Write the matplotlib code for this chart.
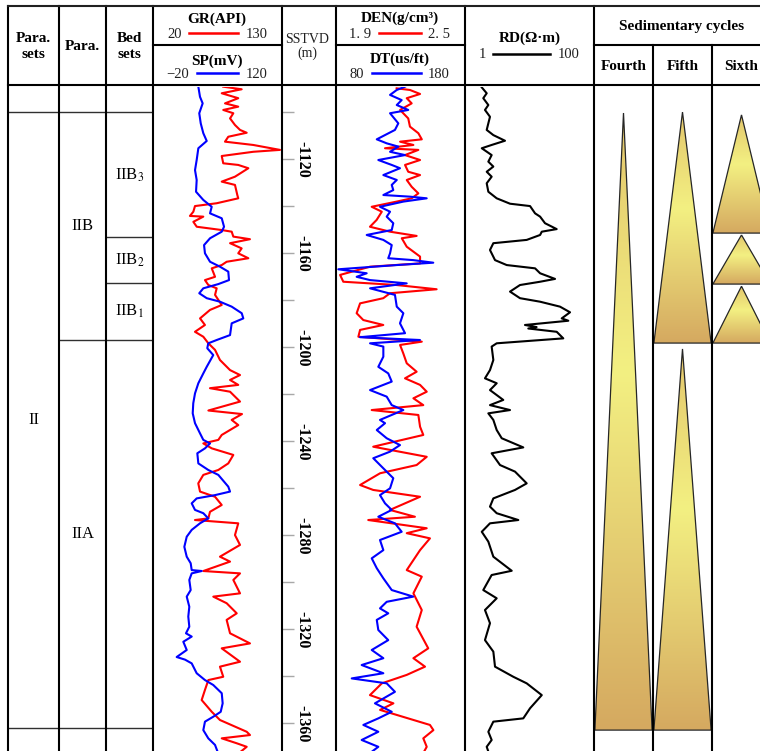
import numpy as np
import matplotlib
matplotlib.use("Agg")
import matplotlib.pyplot as plt
from matplotlib.colors import LinearSegmentedColormap
from matplotlib.patches import Polygon

plt.rcParams['font.family'] = ['Liberation Serif', 'DejaVu Serif']
plt.rcParams['axes.unicode_minus'] = False
plt.rcParams['mathtext.fontset'] = 'stix'

# ---- log data (depth in m below datum, SSTVD = -depth) ----
gr_depth = [1089.1, 1090.2, 1091.9, 1094.0, 1096.2, 1097.6, 1099.0, 1100.4, 1102.6, 1105.4,
            1107.5, 1108.7, 1110.4, 1112.5, 1113.9, 1116.0, 1116.8, 1118.6, 1121.7, 1122.4,
            1123.8, 1127.4, 1129.5, 1130.9, 1135.2, 1136.6, 1138.7, 1139.9, 1142.3, 1144.1,
            1144.4, 1146.6, 1148.7, 1150.1, 1150.8, 1152.9, 1154.0, 1155.7, 1157.9, 1160.0,
            1162.1, 1163.6, 1165.0, 1166.4, 1170.0, 1171.4, 1173.5, 1174.9, 1177.7, 1182.0,
            1184.1, 1187.7, 1190.5, 1193.4, 1195.5, 1198.3, 1201.1, 1205.4, 1209.7, 1211.8,
            1213.9, 1216.0, 1217.4, 1218.9, 1223.1, 1226.9, 1228.4, 1230.9, 1233.1, 1237.3,
            1239.4, 1240.9, 1243.0, 1245.8, 1249.4, 1252.2, 1254.3, 1257.9, 1261.4, 1263.6,
            1267.1, 1270.0, 1272.8, 1273.5, 1274.9, 1279.9, 1284.1, 1289.1, 1291.2, 1295.2,
            1296.2, 1299.0, 1304.7, 1306.1, 1308.9, 1313.2, 1316.0, 1321.7, 1326.0, 1328.1,
            1333.8, 1335.9, 1340.2, 1341.6, 1345.8, 1350.1, 1355.1, 1358.6, 1363.6, 1365.0,
            1366.4, 1368.5, 1370.0, 1372.0]
gr = [79.9, 95.6, 78.6, 92.7, 81.4, 92.7, 79.9, 88.5, 85.7, 89.9,
      94.2, 99.9, 84.2, 81.4, 105.5, 128.3, 105.5, 78.6, 79.9, 92.7,
      101.3, 89.9, 78.6, 89.9, 91.9, 92.7, 74.3, 55.8, 54.4, 51.5,
      62.9, 54.4, 57.3, 78.6, 87.1, 88.5, 102.7, 85.7, 95.6, 92.7,
      101.3, 82.8, 78.6, 70.1, 72.9, 64.3, 67.2, 74.3, 72.9, 78.6,
      68.6, 60.1, 64.3, 55.8, 62.9, 67.2, 72.9, 77.1, 85.7, 94.2,
      85.7, 92.7, 68.6, 85.7, 94.2, 67.2, 95.9, 87.1, 92.7, 78.6,
      75.7, 62.9, 70.1, 88.5, 84.2, 75.7, 62.9, 58.6, 60.1, 72.9,
      78.6, 68.6, 67.2, 55.8, 92.7, 89.9, 94.2, 77.1, 85.7, 62.9,
      94.2, 88.5, 94.2, 71.4, 82.8, 91.4, 82.8, 85.7, 102.7, 78.6,
      94.2, 77.1, 79.9, 67.2, 64.3, 61.5, 70.1, 77.1, 99.9, 102.7,
      78.6, 91.4, 99.9, 95.0]

sp_depth = [1089.1, 1093.4, 1096.2, 1100.4, 1104.7, 1108.9, 1112.2, 1115.3, 1120.3, 1124.6,
            1128.8, 1133.8, 1137.3, 1140.2, 1143.0, 1145.1, 1148.7, 1150.8, 1153.6, 1156.5,
            1160.0, 1163.6, 1165.7, 1167.8, 1171.4, 1173.1, 1174.9, 1177.0, 1179.1, 1180.6,
            1182.7, 1185.5, 1187.7, 1189.8, 1194.8, 1196.9, 1198.3, 1200.4, 1203.3, 1208.3,
            1211.1, 1215.3, 1219.6, 1223.8, 1228.1, 1232.3, 1236.6, 1239.4, 1240.9, 1243.0,
            1245.1, 1249.4, 1252.2, 1254.3, 1259.3, 1261.4, 1262.9, 1264.3, 1266.4, 1269.2,
            1270.6, 1272.8, 1274.9, 1277.7, 1280.6, 1284.9, 1289.1, 1291.9, 1294.8, 1295.2,
            1296.2, 1299.0, 1303.3, 1306.1, 1310.4, 1314.6, 1318.9, 1321.7, 1323.1, 1325.3,
            1328.8, 1331.8, 1332.9, 1334.5, 1338.7, 1341.6, 1343.7, 1347.2, 1351.5, 1355.1,
            1357.2, 1359.3, 1362.9, 1366.4, 1369.2, 1372.0]
sp = [29.2, 31.0, 33.9, 30.2, 31.8, 34.6, 38.3, 29.2, 27.4, 25.6,
      27.4, 26.7, 34.6, 43.7, 41.9, 54.6, 57.1, 54.6, 41.9, 35.4,
      36.4, 41.9, 52.7, 61.7, 62.5, 50.9, 34.6, 30.2, 38.3, 52.7,
      65.4, 76.3, 78.0, 65.4, 63.6, 49.1, 40.0, 38.9, 45.4, 38.3,
      34.6, 29.2, 25.6, 23.7, 23.1, 25.6, 31.0, 34.6, 41.9, 36.4,
      28.1, 29.2, 40.0, 50.9, 61.7, 63.6, 47.3, 27.4, 22.0, 25.6,
      34.6, 40.0, 31.0, 22.0, 16.6, 14.0, 16.6, 20.9, 22.0, 32.9,
      22.0, 19.4, 20.9, 16.6, 19.4, 18.3, 19.4, 15.8, 22.0, 12.9,
      16.6, 5.7, 14.7, 22.0, 27.4, 36.4, 45.4, 54.6, 55.6, 53.5,
      45.4, 36.4, 34.6, 40.0, 47.3, 50.0]

den_depth = [1089.8, 1090.5, 1092.2, 1094.0, 1096.2, 1099.0, 1102.6, 1106.1, 1108.9, 1111.5,
             1112.5, 1113.9, 1115.3, 1116.0, 1118.2, 1120.3, 1122.4, 1125.3, 1126.7, 1128.8,
             1131.7, 1134.5, 1136.6, 1138.0, 1140.2, 1142.3, 1145.8, 1148.7, 1150.8, 1152.6,
             1153.6, 1157.2, 1161.4, 1164.3, 1165.7, 1169.2, 1172.1, 1173.5, 1175.3, 1177.0,
             1179.1, 1181.3, 1185.5, 1188.4, 1190.5, 1192.6, 1195.5, 1197.6, 1199.0, 1202.6,
             1206.8, 1210.4, 1213.2, 1216.0, 1218.9, 1221.7, 1224.6, 1226.7, 1228.8, 1233.8,
             1237.3, 1242.3, 1246.6, 1250.1, 1253.6, 1258.6, 1260.7, 1263.6, 1269.2, 1272.1,
             1273.5, 1277.0, 1279.1, 1281.3, 1286.3, 1294.8, 1297.6, 1304.7, 1311.8, 1318.9,
             1328.1, 1332.3, 1335.9, 1339.4, 1343.0, 1348.0, 1351.5, 1354.3, 1360.7, 1362.9,
             1366.4, 1370.0, 1372.0]
den = [2.182, 2.244, 2.291, 2.229, 2.252, 2.198, 2.236, 2.244, 2.283, 2.299,
       2.198, 2.260, 2.128, 2.283, 2.221, 2.291, 2.221, 2.236, 2.291, 2.229,
       2.252, 2.283, 2.252, 2.182, 2.066, 2.113, 2.089, 2.058, 2.151, 2.275,
       2.206, 2.229, 2.291, 2.291, 2.058, 1.919, 1.934, 2.182, 2.368, 2.151,
       2.120, 2.012, 1.996, 2.027, 2.120, 2.012, 2.004, 2.299, 2.198, 2.213,
       2.229, 2.275, 2.221, 2.291, 2.322, 2.260, 2.306, 2.066, 2.283, 2.291,
       2.306, 2.073, 2.322, 2.275, 2.105, 2.012, 2.073, 2.291, 2.151, 2.267,
       2.050, 2.322, 2.229, 2.337, 2.291, 2.229, 2.299, 2.260, 2.299, 2.275,
       2.329, 2.260, 2.314, 2.229, 2.113, 2.058, 2.167, 2.105, 2.337, 2.353,
       2.306, 2.322, 2.310]

dt_depth = [1089.1, 1090.5, 1092.6, 1094.8, 1096.9, 1099.0, 1100.4, 1104.7, 1107.5, 1111.5,
            1113.2, 1114.6, 1116.8, 1118.2, 1120.3, 1122.4, 1123.8, 1126.7, 1128.8, 1130.9,
            1133.1, 1135.2, 1135.9, 1136.6, 1138.0, 1140.2, 1142.3, 1144.4, 1147.2, 1150.1,
            1152.2, 1154.3, 1156.5, 1160.0, 1162.1, 1162.9, 1164.0, 1165.0, 1166.8, 1168.5,
            1170.0, 1171.4, 1172.8, 1174.9, 1177.7, 1182.7, 1185.5, 1189.8, 1194.0, 1195.7,
            1196.9, 1198.3, 1199.7, 1204.0, 1208.3, 1211.1, 1214.6, 1218.2, 1221.0, 1224.6,
            1226.7, 1230.9, 1232.3, 1235.2, 1238.7, 1241.6, 1244.4, 1247.2, 1251.5, 1255.7,
            1260.0, 1262.9, 1266.4, 1269.2, 1272.1, 1274.9, 1278.5, 1282.0, 1286.3, 1289.8,
            1294.0, 1298.3, 1303.3, 1306.1, 1308.3, 1311.1, 1313.2, 1316.0, 1320.3, 1324.6,
            1328.8, 1332.3, 1335.2, 1338.7, 1340.9, 1343.0, 1346.6, 1351.5, 1355.1, 1357.9,
            1360.7, 1363.6, 1367.1, 1370.0, 1372.0]
dt = [133.5, 127.1, 121.9, 130.9, 127.1, 136.0, 121.9, 128.3, 125.7, 111.6,
      119.3, 128.3, 121.9, 133.5, 112.8, 123.2, 129.6, 116.7, 127.1, 123.2,
      124.4, 116.7, 137.4, 150.3, 132.2, 114.1, 121.9, 119.3, 124.4, 123.2,
      103.8, 116.7, 123.2, 121.9, 120.5, 139.9, 155.4, 127.1, 81.8, 103.8,
      96.0, 106.4, 134.8, 106.4, 125.7, 127.1, 132.2, 129.6, 133.5, 98.6,
      145.1, 106.4, 116.7, 116.7, 112.8, 120.5, 123.2, 106.4, 119.3, 123.2,
      132.2, 114.1, 118.0, 111.6, 119.3, 129.6, 121.9, 108.9, 116.7, 124.4,
      121.9, 114.1, 118.0, 123.2, 112.8, 125.7, 130.9, 114.1, 116.7, 107.7,
      111.6, 116.7, 123.2, 139.9, 119.3, 114.1, 120.5, 111.6, 112.8, 120.5,
      107.7, 116.7, 99.9, 116.7, 92.2, 119.3, 125.7, 110.2, 123.2, 112.8,
      101.2, 112.8, 99.9, 112.8, 108.0]

rd_depth = [1089.4, 1091.9, 1094.0, 1096.9, 1099.0, 1101.9, 1104.7, 1107.5, 1109.7, 1112.1,
            1113.9, 1115.3, 1118.2, 1121.0, 1123.1, 1125.3, 1127.4, 1130.2, 1133.8, 1136.6,
            1138.9, 1139.9, 1143.0, 1144.4, 1147.2, 1149.7, 1150.8, 1152.2, 1154.3, 1155.7,
            1158.6, 1162.9, 1165.0, 1166.4, 1168.5, 1170.9, 1172.1, 1173.5, 1176.3, 1179.1,
            1180.6, 1182.7, 1185.1, 1187.7, 1188.7, 1190.5, 1191.4, 1192.0, 1193.4, 1196.2,
            1198.3, 1199.7, 1205.4, 1209.7, 1213.2, 1215.3, 1218.2, 1222.4, 1224.6, 1226.7,
            1228.1, 1230.9, 1235.2, 1238.7, 1242.6, 1245.1, 1250.1, 1252.9, 1257.9, 1260.7,
            1264.3, 1267.8, 1270.6, 1273.5, 1274.9, 1278.5, 1282.7, 1289.1, 1295.1, 1296.9,
            1303.3, 1306.8, 1311.8, 1317.4, 1324.6, 1329.5, 1335.9, 1340.2, 1343.0, 1348.0,
            1353.6, 1357.9, 1359.3, 1363.6, 1367.1, 1370.0, 1372.0]
rd = [1.82, 2.17, 1.92, 2.30, 2.04, 2.44, 2.30, 2.17, 2.75, 4.17,
      2.59, 1.82, 2.59, 2.30, 2.75, 2.17, 2.59, 2.17, 2.30, 3.10,
      4.99, 10.2, 12.2, 14.6, 17.4, 26.4, 15.5, 14.6, 9.05, 2.75,
      2.44, 2.92, 4.43, 12.2, 14.6, 24.9, 14.6, 7.12, 4.99, 7.12,
      14.6, 29.7, 42.5, 31.6, 40.0, 8.51, 12.9, 9.58, 26.4, 33.4,
      3.10, 2.59, 2.75, 2.44, 2.04, 3.10, 2.44, 3.92, 2.44, 4.99,
      2.30, 2.75, 3.10, 3.71, 8.01, 2.59, 3.49, 5.96, 9.05, 5.96,
      2.75, 2.44, 3.10, 6.71, 2.44, 1.82, 2.30, 2.75, 5.30, 2.59,
      1.92, 3.10, 2.04, 2.44, 2.04, 2.75, 2.92, 5.61, 9.05, 15.5,
      10.2, 8.01, 2.75, 2.30, 2.59, 2.17, 2.30]

# ---- stratigraphic units ----
para_set_names = ['II']
para_set_bounds = [1100.0, 1362.0]
para_names = ['IIB', 'IIA']
para_bounds = [1100.0, 1196.8, 1362.0]
bed_names = ['IIB$_3$', 'IIB$_2$', 'IIB$_1$']
bed_bounds = [1100.0, 1153.2, 1172.8, 1196.8, 1362.0]

fourth_tops = [1100.3]
fourth_bases = [1362.9]
fifth_tops = [1099.9, 1200.7]
fifth_bases = [1198.2, 1362.9]
sixth_tops = [1101.1, 1152.2, 1174.0]
sixth_bases = [1151.4, 1173.1, 1198.2]

depth_ticks = list(range(1100, 1361, 20))
depth_labels = list(range(1120, 1361, 40))

# ---- layout (pixels) ----
W, H = 760, 751
HDR_TOP, HDR_MID, HDR_BOT = 6, 45, 85
TRK_TOP, TRK_BOT = 87, 751
COLS = [8, 59, 106, 153, 282, 336, 465, 594, 653, 712, 771]
D_TOP = 1100 + (TRK_TOP - 112.3) / 2.35
D_BOT = 1100 + (TRK_BOT - 112.3) / 2.35

fig = plt.figure(figsize=(W / 100, H / 100), dpi=100)
fig.patch.set_facecolor('white')


def track(x0, x1):
    ax = fig.add_axes([x0 / W, 1 - TRK_BOT / H, (x1 - x0) / W, (TRK_BOT - TRK_TOP) / H])
    ax.set_ylim(-D_BOT, -D_TOP)
    ax.axis('off')
    return ax


def zone_column(x0, x1, bounds, names):
    ax = track(x0, x1)
    ax.set_xlim(0, 1)
    ax.hlines([-b for b in bounds], 0, 1, color='#303030', lw=1.0)
    for i, name in enumerate(names):
        mid = (bounds[i] + bounds[i + 1]) / 2
        ax.text(0.5, -mid, name, ha='center', va='center', fontsize=12)
    return ax


zone_column(COLS[0], COLS[1], para_set_bounds, para_set_names)
zone_column(COLS[1], COLS[2], para_bounds, para_names)
zone_column(COLS[2], COLS[3], bed_bounds, bed_names)

# GR / SP
ax = track(COLS[3], COLS[4])
ax.set_xlim(20, 130)
ax.plot(gr, -np.array(gr_depth), color='#ff0000', lw=1.5)
ax = track(COLS[3], COLS[4])
ax.set_xlim(-20, 120)
ax.plot(sp, -np.array(sp_depth), color='#0000ff', lw=1.5)

# depth column
ax = fig.add_axes([COLS[4] / W, 1 - TRK_BOT / H, (COLS[5] - COLS[4]) / W, (TRK_BOT - TRK_TOP) / H])
ax.set_xlim(0, 1)
ax.set_ylim(-D_BOT, -D_TOP)
for s in ax.spines.values():
    s.set_visible(False)
ax.set_xticks([])
ax.set_yticks([-d for d in depth_ticks])
ax.tick_params(axis='y', direction='in', length=8.6, width=1, color='#a8a8a8', labelleft=False)
for d in depth_labels:
    ax.text(0.37, -d, f'-{d}', rotation=-90, ha='center', va='center',
            fontsize=11.5, fontweight='bold')

# DEN / DT
ax = track(COLS[5], COLS[6])
ax.set_xlim(1.9, 2.5)
ax.plot(den, -np.array(den_depth), color='#ff0000', lw=1.5)
ax = track(COLS[5], COLS[6])
ax.set_xlim(80, 180)
ax.plot(dt, -np.array(dt_depth), color='#0000ff', lw=1.5)

# RD
ax = track(COLS[6], COLS[7])
ax.set_xscale('log')
ax.set_xlim(1, 100)
ax.plot(rd, -np.array(rd_depth), color='black', lw=1.5)

# sedimentary cycles
cyc_cmap = LinearSegmentedColormap.from_list(
    'cyc', [(0.0, '#e3c66c'), (0.42, '#f3f082'), (1.0, '#d5a960')])
grad = np.linspace(0, 1, 256).reshape(-1, 1)


def cycles(x0, x1, tops, bases):
    ax = track(x0, x1)
    for t, b in zip(tops, bases):
        tri = Polygon([(0.5, -t), (0.015, -b), (0.985, -b)], closed=True,
                      fc='none', ec='#262626', lw=0.9, zorder=3)
        ax.add_patch(tri)
        im = ax.imshow(grad, cmap=cyc_cmap, aspect='auto', origin='upper',
                       extent=(0, 1, -b, -t), zorder=2, interpolation='bilinear')
        im.set_clip_path(tri)
    ax.set_xlim(0, 1)
    ax.set_ylim(-D_BOT, -D_TOP)


cycles(COLS[7], COLS[8], fourth_tops, fourth_bases)
cycles(COLS[8], COLS[9], fifth_tops, fifth_bases)
cycles(COLS[9], COLS[10], sixth_tops, sixth_bases)

# ---- frame and header ----
fr = fig.add_axes([0, 0, 1, 1])
fr.set_xlim(0, W)
fr.set_ylim(H, 0)
fr.axis('off')
lw_frame = 1.5
for x in COLS[:8]:
    fr.plot([x, x], [HDR_TOP, H], color='black', lw=lw_frame)
for x in COLS[8:10]:
    fr.plot([x, x], [HDR_MID, H], color='black', lw=lw_frame)
fr.plot([COLS[0], W], [HDR_TOP, HDR_TOP], color='#202020', lw=lw_frame)
fr.plot([COLS[0], W], [HDR_BOT, HDR_BOT], color='black', lw=lw_frame)
for a, b in [(COLS[3], COLS[4]), (COLS[5], COLS[6]), (COLS[7], W)]:
    fr.plot([a, b], [HDR_MID, HDR_MID], color='black', lw=lw_frame)

bold = dict(fontsize=11, fontweight='bold', ha='center', va='center')
plain = dict(fontsize=10.5, ha='center', va='center', color='#202020')

fr.text(33.5, 39, 'Para.', **bold)
fr.text(33.5, 54, 'sets', **bold)
fr.text(82, 46.5, 'Para.', **bold)
fr.text(129, 39, 'Bed', **bold)
fr.text(129, 54, 'sets', **bold)

fr.text(217, 19.5, 'GR(API)', **bold)
fr.text(174.5, 34, '20', **plain)
fr.plot([189, 238], [33, 33], color='#ff0000', lw=1.8)
fr.text(256.5, 34, '130', **plain)
fr.text(217, 61, 'SP(mV)', **bold)
fr.text(178, 74, '\u221220', **plain)
fr.plot([197, 238], [73, 73], color='#0000ff', lw=1.8)
fr.text(256.5, 74, '120', **plain)

fr.text(307, 39.5, 'SSTVD', fontsize=10, ha='center', va='center', color='#202020')
fr.text(307, 53, '(m)', fontsize=10, ha='center', va='center', color='#202020')

fr.text(400, 18.5, 'DEN(g/cm\u00b3)', **bold)
fr.text(360.5, 34, '1. 9', **plain)
fr.plot([379, 421], [33, 33], color='#ff0000', lw=1.8)
fr.text(438.5, 34, '2. 5', **plain)
fr.text(400, 59, 'DT(us/ft)', **bold)
fr.text(356.5, 74, '80', **plain)
fr.plot([372, 421], [73, 73], color='#0000ff', lw=1.8)
fr.text(439, 74, '180', **plain)

fr.text(530, 38.5, 'RD(\u03a9\u00b7m)', **bold)
fr.text(482, 55, '1', **plain)
fr.plot([493, 550], [54, 54], color='black', lw=1.8)
fr.text(569, 55, '100', **plain)

fr.text(682, 26.5, 'Sedimentary cycles', **bold)
fr.text(623.5, 66, 'Fourth', **bold)
fr.text(682.5, 66, 'Fifth', **bold)
fr.text(741.5, 66, 'Sixth', **bold)

fig.savefig('out.png', dpi=100)
